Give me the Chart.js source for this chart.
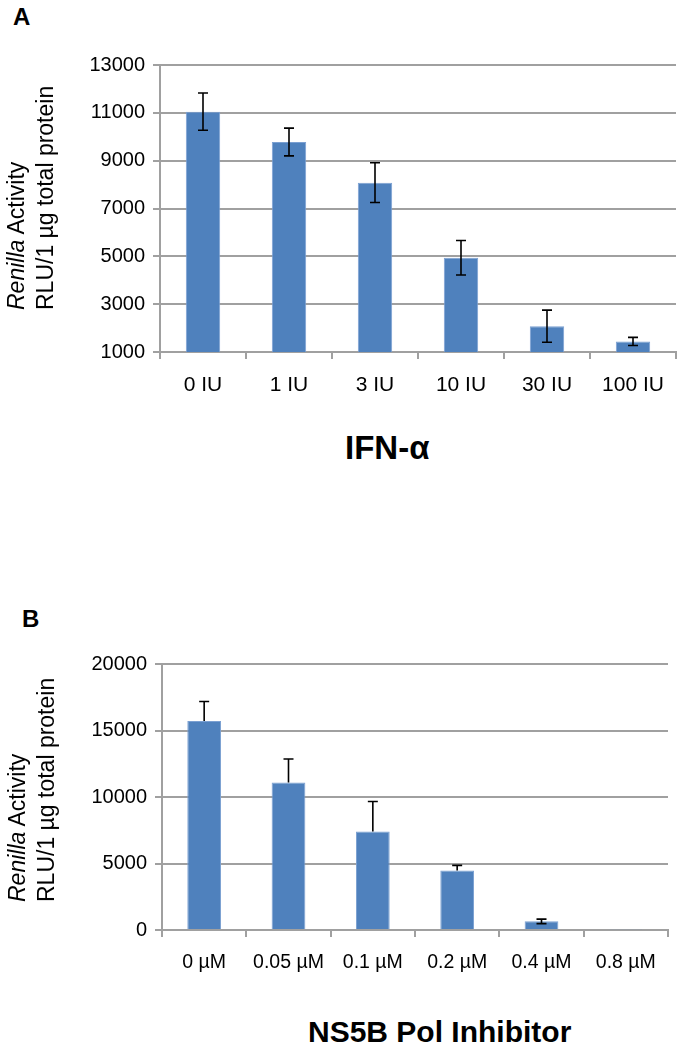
<!DOCTYPE html>
<html>
<head>
<meta charset="utf-8">
<script src="https://cdn.jsdelivr.net/npm/chart.js@4.4.1/dist/chart.umd.min.js"></script>
<style>
  body { margin: 0; background: #fff; }
  #page { position: relative; width: 682px; height: 1050px; font-family: "Liberation Sans", Arial, sans-serif; color: #000; }
  .panel { position: absolute; left: 0; width: 682px; height: 400px; }
  .letter { position: absolute; font-weight: bold; font-size: 24px; line-height: 24px; }
  .xtitle { position: absolute; font-weight: bold; font-size: 30px; line-height: 30px; white-space: nowrap; }
  .ytitle { position: absolute; font-size: 23px; line-height: 29px; white-space: nowrap;
            transform: rotate(-90deg); transform-origin: 0 0; }
</style>
</head>
<body>
<div id="page">
  <div class="letter" style="left:13px;top:5px">A</div>
  <div class="panel" style="top:0"><canvas id="chartA" width="682" height="400"></canvas></div>
  <div class="ytitle" style="left:2px;top:310px"><i>Renilla</i> Activity<br>RLU/1 µg total protein</div>
  <div class="xtitle" style="left:345px;top:431px;font-size:33px;line-height:33px">IFN-α</div>

  <div class="letter" style="left:22px;top:607px">B</div>
  <div class="panel" style="top:580px"><canvas id="chartB" width="682" height="400"></canvas></div>
  <div class="ytitle" style="left:3px;top:902px"><i>Renilla</i> Activity<br>RLU/1 µg total protein</div>
  <div class="xtitle" style="left:308px;top:1017px">NS5B Pol Inhibitor</div>
</div>
<script>
// panel A - IFN-alpha
var categoriesA = ['0 IU', '1 IU', '3 IU', '10 IU', '30 IU', '100 IU'];
var valuesA = [11050, 9780, 8080, 4940, 2080, 1440];
var errorsA = [780, 580, 830, 720, 670, 170];
var ticksA = [1000, 3000, 5000, 7000, 9000, 11000, 13000];

// panel B - NS5B polymerase inhibitor
var categoriesB = ['0 µM', '0.05 µM', '0.1 µM', '0.2 µM', '0.4 µM', '0.8 µM'];
var valuesB = [15720, 11090, 7400, 4480, 650, 50];
var errUpB = [1460, 1770, 2260, 380, 170, 0];
var errDownB = [0, 0, 0, 0, 170, 0];
var ticksB = [0, 5000, 10000, 15000, 20000];

var BLUE = '#4f81bd';
var GRID = '#a0a0a0';

Chart.defaults.font.family = '"Liberation Sans", Arial, sans-serif';
Chart.defaults.color = '#000';

var errorBars = {
    id: 'errorBars',
    afterDatasetsDraw: function (chart, args, opts) {
        var ctx = chart.ctx;
        var y = chart.scales.y;
        var vals = chart.data.datasets[0].data;
        var meta = chart.getDatasetMeta(0);
        ctx.save();
        ctx.strokeStyle = '#000';
        ctx.lineWidth = 1.6;
        meta.data.forEach(function (bar, i) {
            var up = opts.up[i], down = opts.down[i];
            if (!up && !down) return;
            var x = bar.x;
            var top = y.getPixelForValue(vals[i] + up);
            var bot = y.getPixelForValue(vals[i] - down);
            ctx.beginPath();
            ctx.moveTo(x, top);
            ctx.lineTo(x, bot);
            if (up) { ctx.moveTo(x - 5, top); ctx.lineTo(x + 5, top); }
            if (down) { ctx.moveTo(x - 5, bot); ctx.lineTo(x + 5, bot); }
            ctx.stroke();
        });
        ctx.restore();
    }
};

function makeChart(id, labels, values, up, down, ticks, axisWidth, axisHeight, pad, labelSize) {
    return new Chart(document.getElementById(id), {
        type: 'bar',
        data: {
            labels: labels,
            datasets: [{
                data: values,
                backgroundColor: BLUE,
                borderColor: '#7ba0d2',
                borderWidth: 1,
                barPercentage: 0.4,
                categoryPercentage: 1.0
            }]
        },
        options: {
            responsive: false,
            animation: false,
            layout: { padding: pad },
            plugins: {
                legend: { display: false },
                tooltip: { enabled: false },
                errorBars: { up: up, down: down }
            },
            scales: {
                x: {
                    grid: { drawOnChartArea: false, offset: true, tickLength: 7, color: GRID, lineWidth: 2 },
                    border: { color: GRID, width: 2 },
                    ticks: { font: { size: labelSize }, padding: 14, maxRotation: 0 },
                    afterFit: function (s) { s.height = axisHeight; }
                },
                y: {
                    min: ticks[0],
                    max: ticks[ticks.length - 1],
                    afterBuildTicks: function (s) {
                        s.ticks = ticks.map(function (v) { return { value: v }; });
                    },
                    grid: { color: GRID, lineWidth: 2, tickLength: 7 },
                    border: { color: GRID, width: 2 },
                    ticks: { font: { size: 20 }, padding: 8, callback: function (v) { return String(v); } },
                    afterFit: function (s) { s.width = axisWidth; }
                }
            }
        },
        plugins: [errorBars]
    });
}

makeChart('chartA', categoriesA, valuesA, errorsA, errorsA, ticksA, 160, 48,
    { top: 65, right: 6, left: 0, bottom: 0 }, 21);
makeChart('chartB', categoriesB, valuesB, errUpB, errDownB, ticksB, 162, 50,
    { top: 84, right: 14, left: 0, bottom: 0 }, 19.5);
</script>
</body>
</html>
